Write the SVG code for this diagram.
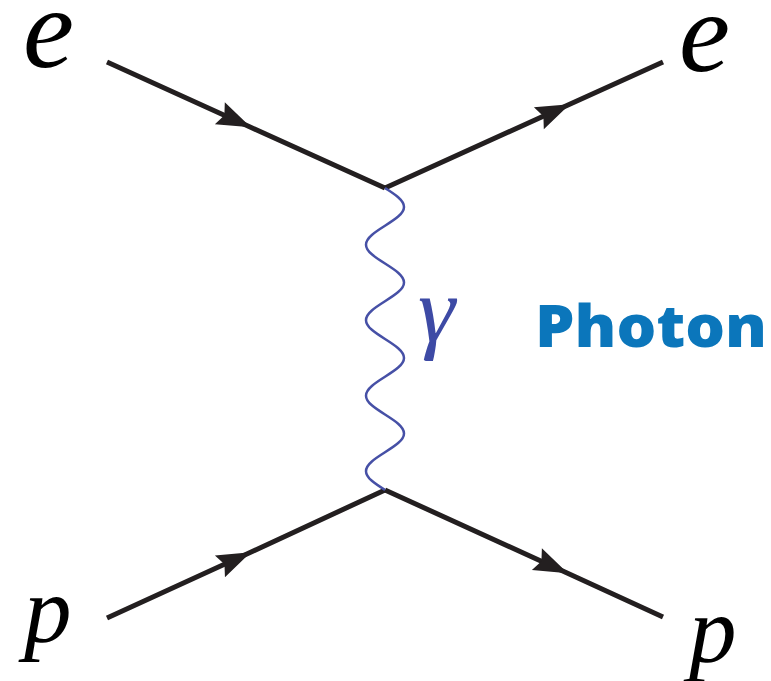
<svg xmlns="http://www.w3.org/2000/svg" width="771" height="681" viewBox="0 0 771 681">
<style>
.lbl{font-family:"Liberation Serif","Times New Roman",serif;font-style:italic;fill:#000}
.fermion{fill:none;stroke:#231f20;stroke-width:5;stroke-linecap:butt}
.photon{fill:none;stroke:#4650a6;stroke-width:2.5}
</style>
<defs>
<marker id="arr" viewBox="-33 -13 36 26" refX="0" refY="0" markerWidth="36" markerHeight="26" markerUnits="userSpaceOnUse" orient="auto">
<path d="M2,0 L-32,-12 L-27,0 L-32,12 Z" fill="#231f20"/>
</marker>
</defs>
<rect width="771" height="681" fill="#fff"/>
<g id="connectors">
<path class="fermion" d="M107,62 L249,126.5 L385,188" marker-mid="url(#arr)"/>
<path class="fermion" d="M385,188 L568,105 L663,62" marker-mid="url(#arr)"/>
<path class="fermion" d="M107,618 L249,553 L385,490" marker-mid="url(#arr)"/>
<path class="fermion" d="M385,490 L566,572.5 L663,617" marker-mid="url(#arr)"/>
<path class="photon" d="M385,188 c9.73,6.155 19,12.075 19,18.875 s-9.27,12.72 -19,18.875 s-19,12.075 -19,18.875 s9.27,12.72 19,18.875 s19,12.075 19,18.875 s-9.27,12.72 -19,18.875 s-19,12.075 -19,18.875 s9.27,12.72 19,18.875 s19,12.075 19,18.875 s-9.27,12.72 -19,18.875 s-19,12.075 -19,18.875 s9.27,12.72 19,18.875 s19,12.075 19,18.875 s-9.27,12.72 -19,18.875 s-19,12.075 -19,18.875 s9.27,12.72 19,18.875"/>
</g>
<g id="e-in"><text class="lbl" x="23" y="67" font-size="115">e</text></g>
<g id="e-out"><text class="lbl" x="679" y="71" font-size="115">e</text></g>
<g id="p-in"><text class="lbl" x="24" y="642" font-size="95">p</text></g>
<g id="p-out"><text class="lbl" x="689" y="662" font-size="95">p</text></g>
<g id="gamma"><text class="lbl" x="418" y="341" font-size="94" style="fill:#3d4aa5">γ</text></g>
<g id="photon-label"><text x="535" y="347" font-family="'Open Sans','Liberation Sans',sans-serif" font-weight="800" font-size="58" fill="#0b76bb" textLength="232" lengthAdjust="spacingAndGlyphs">Photon</text></g>
</svg>
